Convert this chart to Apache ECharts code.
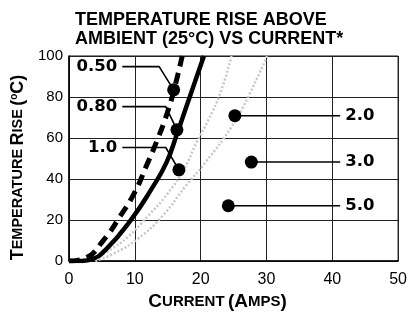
<!DOCTYPE html>
<html lang="en">
<head>
    <meta charset="UTF-8">
    <title>Temperature rise vs current</title>
    <script src="https://cdn.jsdelivr.net/npm/echarts@6/dist/echarts.min.js"></script>
    <style>
        body { margin: 0; background: #fff; }
        #main { width: 410px; height: 316px; }
    </style>
</head>
<body>
    <div id="main"></div>
    <script>
        // axis ticks
        var xTicks = [0, 10, 20, 30, 40, 50];
        var yTicks = [0, 20, 40, 60, 80, 100];

        // curves: [amps, degC]
        var solidCurve = [[0, 0], [2, 0.1], [3.4, 0.8], [5.7, 6], [9.5, 20.5], [12.5, 35], [14.8, 48],
            [16.4, 62], [17.8, 75], [19.2, 88], [20.5, 100]];
        var dashedCurve = [[0, 0], [2.5, 1.5], [5.2, 10], [7.8, 22], [9.9, 33], [11.7, 46], [13.4, 59],
            [14.9, 72], [16, 84], [17.2, 100]];
        var grayCurveA = [[3, 0], [6, 5], [9, 12], [12, 22], [15, 33], [17.5, 45], [19.4, 58],
            [21.2, 69], [23, 82], [24.7, 100]];
        var grayCurveB = [[4, 0], [7, 4], [10.5, 11], [14.2, 22], [17.7, 36.5], [20.7, 48],
            [24.7, 65.5], [27.2, 80], [30.1, 100]];

        // markers: label, leader path (label end -> dot)
        var leftLabels = ['0.50', '0.80', '1.0'];
        var leftLeaders = [
            [[8.1, 94.8], [13.7, 94.8], [15.9, 83.5]],
            [[8.1, 75.3], [14.7, 75.3], [16.4, 64]],
            [[8.1, 55.4], [14.7, 55.4], [16.7, 44.5]]
        ];
        var rightLabels = ['2.0', '3.0', '5.0'];
        var rightLeaders = [
            [[41.2, 70.9], [25.2, 70.9]],
            [[41.2, 48.3], [27.7, 48.3]],
            [[41.2, 27], [24.2, 27]]
        ];

        var myChart = echarts.init(document.getElementById('main'));

        var font = 'Liberation Sans, Arial, sans-serif';
        var series = [];

        series.push({
            type: 'line', data: grayCurveA, smooth: 0.5, symbol: 'none', silent: true, z: 1,
            lineStyle: { color: '#c8c8c8', width: 2.5, type: [2, 2] }
        });
        series.push({
            type: 'line', data: grayCurveB, smooth: 0.5, symbol: 'none', silent: true, z: 1,
            lineStyle: { color: '#c8c8c8', width: 2.5, type: [2, 2] }
        });
        series.push({
            type: 'line', data: solidCurve, smooth: 0.5, symbol: 'none', silent: true, z: 2,
            lineStyle: { color: '#000', width: 4.5 }
        });
        series.push({
            type: 'line', data: dashedCurve, smooth: 0.5, symbol: 'none', silent: true, z: 2,
            lineStyle: { color: '#000', width: 5, type: [11, 7] }
        });

        function addMarker(path, text, side) {
            // leader line
            series.push({
                type: 'line', data: path, symbol: 'none', silent: true, z: 3,
                lineStyle: { color: '#000', width: 1.6 }
            });
            // dot at the end of the leader
            series.push({
                type: 'scatter', data: [path[path.length - 1]], symbol: 'circle', symbolSize: 13, z: 4,
                itemStyle: { color: '#000', opacity: 1 }, silent: true
            });
            // label at the start of the leader
            series.push({
                type: 'scatter', data: [path[0]], symbolSize: 0, silent: true, z: 4,
                itemStyle: { opacity: 1 },
                label: {
                    show: true, position: side, distance: 5, formatter: text,
                    fontSize: 16.5, fontWeight: 'bold', color: '#000', fontFamily: 'DejaVu Sans'
                }
            });
        }
        leftLeaders.forEach(function (p, i) { addMarker(p, leftLabels[i], 'left'); });
        rightLeaders.forEach(function (p, i) { addMarker(p, rightLabels[i], 'right'); });

        var option = {
            animation: false,
            backgroundColor: '#fff',
            title: {
                text: 'TEMPERATURE RISE ABOVE\nAMBIENT (25°C) VS CURRENT*',
                left: 70, top: 6,
                textStyle: { fontSize: 18, fontWeight: 'bold', color: '#000', fontFamily: font, lineHeight: 19 }
            },
            grid: { left: 69, right: 9, top: 56, bottom: 53, show: true, borderColor: '#111', borderWidth: 1 },
            xAxis: {
                type: 'value', min: xTicks[0], max: xTicks[xTicks.length - 1], interval: 10,
                name: '{a|C}{b|URRENT} {a|(A}{b|MPS}{a|)}', nameLocation: 'middle', nameGap: 29,
                nameTextStyle: {
                    padding: [0, 32, 0, 0],
                    rich: {
                        a: { fontSize: 19, fontWeight: 'bold', color: '#000', fontFamily: font },
                        b: { fontSize: 15, fontWeight: 'bold', color: '#000', fontFamily: font }
                    }
                },
                axisLine: { lineStyle: { color: '#000', width: 1.5 } },
                axisTick: { show: false },
                axisLabel: { fontSize: 16, color: '#000', margin: 10, fontFamily: font },
                splitLine: { show: true, lineStyle: { color: '#222', width: 1 } }
            },
            yAxis: {
                type: 'value', min: yTicks[0], max: yTicks[yTicks.length - 1], interval: 20,
                name: '{a|T}{b|EMPERATURE} {a|R}{b|ISE} {a|(}{s|o}{a|C)}', nameLocation: 'middle', nameGap: 40,
                nameTextStyle: {
                    padding: [0, 18, 0, 0],
                    rich: {
                        a: { fontSize: 18, fontWeight: 'bold', color: '#000', fontFamily: font },
                        b: { fontSize: 14.5, fontWeight: 'bold', color: '#000', fontFamily: font },
                        s: { fontSize: 10, fontWeight: 'bold', color: '#000', fontFamily: font, verticalAlign: 'top', padding: [0, 0, 8, 0] }
                    }
                },
                axisLine: { show: true, lineStyle: { color: '#000', width: 1.5 } },
                axisTick: { show: false },
                axisLabel: { fontSize: 15, color: '#000', margin: 6, fontFamily: font },
                splitLine: { show: true, lineStyle: { color: '#222', width: 1 } }
            },
            series: series
        };
        myChart.setOption(option);
    </script>
</body>
</html>
